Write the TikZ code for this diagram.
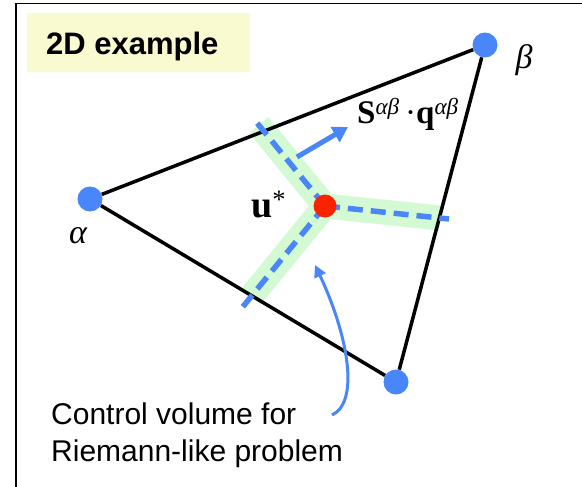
\documentclass[tikz,border=0pt]{standalone}
\usepackage{fontspec}
\setmainfont{Liberation Sans}
\newfontfamily\serifgreek{Liberation Serif}
\usepackage{xcolor}
\usetikzlibrary{arrows.meta, calc}

\definecolor{dotblue}{RGB}{72,134,250}
\definecolor{dotred}{RGB}{250,34,0}
\definecolor{bandgreen}{RGB}{212,250,212}
\definecolor{boxyellow}{RGB}{250,250,208}

\begin{document}
\begin{tikzpicture}[x=1pt, y=-1pt,
        vertex/.style={circle, fill=dotblue, inner sep=0pt, minimum size=25pt},
        midstate/.style={circle, fill=dotred, inner sep=0pt, minimum size=23pt},
        side/.style={line width=3.5pt, black},
        band/.style={line width=25pt, bandgreen, line join=round},
        cut/.style={line width=5.5pt, dotblue, dash pattern=on 15pt off 8pt},
        flow/.style={line width=5pt, dotblue, -{Triangle[length=15pt, width=17pt]}},
        pointer/.style={line width=3pt, dotblue, -{Triangle[length=12pt, width=12pt]}},
        greek/.style={font=\serifgreek\itshape\fontsize{34}{36}\selectfont, inner sep=0pt},
        maths/.style={font=\serifgreek\fontsize{33}{36}\selectfont, inner sep=0pt}]
        \useasboundingbox (0,0) rectangle (582,487);
        \draw[line width=1.5pt] (16,487) -- (16,3.5) -- (582,3.5);
        \fill[boxyellow] (27,13) rectangle (250,72);
        \node[anchor=base west, inner sep=0pt, font=\bfseries\fontsize{31}{34}\selectfont] (title) at (46,55) {2D example};

        \node[vertex] (alpha) at (90,199) {};
        \node[vertex] (beta)  at (485,45) {};
        \node[vertex] (gamma) at (396,382) {};
        \node[greek] (alab) at (78,236) {α};
        \node[greek] (blab) at (524,60) {β};

        \coordinate (c)    at (325,206);
        \coordinate (cutA) at (253,118);
        \coordinate (cutB) at (449,219);
        \coordinate (cutC) at (241,309);

        % control volume
        \draw[band] ($(c)!0.92!(cutA)$) -- (c) -- ($(c)!0.93!(cutB)$)
                    (c) -- ($(c)!0.88!(cutC)$);
        \fill[bandgreen] (c) circle (12.5pt);

        \path[side]
        (alpha) edge (beta)
        (beta)  edge (gamma)
        (gamma) edge (alpha);

        \draw[cut] (c) -- (cutA);
        \draw[cut] (c) -- (cutB);
        \draw[cut] (c) -- (cutC);
        \node[midstate] (ustar) at (c) {};

        \node[maths, anchor=base west] (flux) at (357,124)
            {\textbf{S}\textsuperscript{\itshape αβ}\,·\textbf{q}\textsuperscript{\itshape αβ}};
        \node[maths, anchor=base west, font=\serifgreek\fontsize{38}{40}\selectfont] (ulab) at (251,218)
            {\textbf{u}\textsuperscript{*}};

        \coordinate (fluxtail) at (297,157);
        \coordinate (fluxtip)  at (348,127);
        \draw[flow] (fluxtail) -- (fluxtip);

        \node[anchor=north west, align=left, inner sep=0pt, font=\fontsize{30}{37}\selectfont] (cvtext) at (51,403)
            {Control volume for\\Riemann-like problem};
        \coordinate (cvtail) at (332,415);
        \coordinate (cvtip)  at (315,265);
        \draw[pointer] (cvtail) .. controls (360,402) and (348,335) .. (cvtip);
    \end{tikzpicture}
\end{document}
